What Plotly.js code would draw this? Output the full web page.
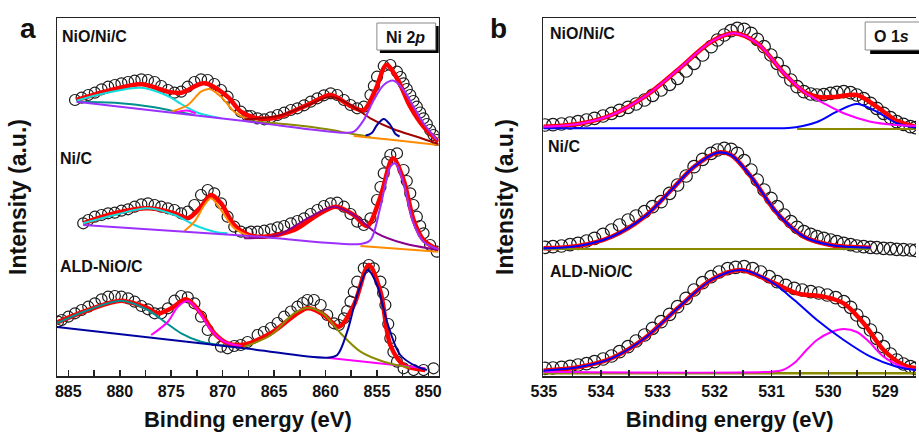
<!DOCTYPE html>
<html>
<head>
<meta charset="utf-8">
<script src="https://cdn.plot.ly/plotly-3.0.1.min.js"></script>
<style>html,body{margin:0;padding:0;background:#fff}#chart{width:919px;height:436px}</style>
</head>
<body>
<div id="chart"></div>
<script>
// ---------- Panel a : Ni 2p (binding energy eV, intensity a.u.) ----------
const a1DataE = [884.35,883.71,883.06,882.42,881.77,881.13,880.48,879.84,879.19,878.55,877.9,877.26,876.61,875.97,875.32,874.68,874.03,873.39,872.74,872.1,871.45,870.81,870.16,869.52,868.87,868.23,867.58,867.24,866.6,865.95,865.31,864.66,864.02,863.37,862.73,862.08,861.44,860.79,860.15,859.5,858.86,858.21,857.57,856.92,856.28,855.63,855.3,854.99,854.34,853.7,853.05,852.7,852.41,852.1,851.76,851.45,851.12,850.8,850.47,850.15,849.83,849.5,849.18];
const a1DataI = [276,278.3,281,283.3,286.7,289.3,291,292.7,294,295.3,296.7,296,294,290,286,283.3,284.3,289.3,294,296.7,296,292,286,279.3,271,264.3,260,260,257.7,256.7,258.7,261,263.3,266,267.7,270.7,274.3,277.7,280.7,282.7,281,276,271,267.7,269.3,281,290,299.3,310,311,304.3,299,292.7,287,281,275,269.3,263.5,257.7,252,246,241,236];
const a1FitE = [884.19,881.45,877.9,875.32,874.03,871.77,869.52,868.23,866.6,864.66,861.44,859.5,857.57,856.28,855.15,854.08,853.05,851.76,850.47,849.02];
const a1FitI = [276,284.3,291.7,284.3,283.3,292.7,279.3,264.3,257.7,258.7,272.7,281,270,266,286,311,297.7,269.3,249.3,234.3];
const a1CyanE = [884.19,881.45,877.9,875.32,874.03,872.42,870.16];
const a1CyanI = [275.3,282.7,288.3,280,272,263.3,257.7];
const a1TealE = [884.19,880.48,876.61,874.68,872.74];
const a1TealI = [274.3,273.3,268.7,264.7,261];
const a1OrangeE = [875.0,873.39,872.1,871.29,870.16,868.87,867.42];
const a1OrangeI = [264.3,271,284.3,287,279.3,264.3,256];
const a1MagentaE = [874.5,873.5,872.6];
const a1MagentaI = [263.8,265.5,262.6];
const a1PurpleE = [884.19,867.9,858.21,857.24,856.28,855.31,854.34,853.37,852.41,851.44,850.47,849.18];
const a1PurpleI = [274.3,255,243.3,244.3,256,276,291,295.3,286,269.3,252.7,236];
const a1NavyE = [856.1,855.5,854.99,854.34,853.7,853.2,852.8];
const a1NavyI = [240.5,243,251,257,251,242,239.5];
const a1MaroonE = [867.89,864.66,861.44,859.5,857.57,855.63,853.37,851.12,849.02];
const a1MaroonI = [256.7,260,272,279.3,271,257.7,246.7,239.3,232];
const a1OliveE = [867.89,863.05,859.83,857.24,855.63];
const a1OliveI = [255.3,251,246.7,241.7,239.3];
const a1BaseE = [857.24,853.37,849.02];
const a1BaseI = [240,236,231];

const a2DataE = [883.55,883.06,882.42,881.77,881.13,880.48,879.84,879.19,878.55,877.9,877.26,876.61,875.97,875.32,874.68,874.03,873.39,872.74,872.1,871.45,870.81,870.16,869.52,868.87,868.23,867.58,867.24,866.6,865.95,865.31,864.66,864.02,863.37,862.73,862.08,861.44,860.79,860.15,859.5,858.86,858.21,857.57,856.92,856.28,855.63,854.99,854.66,854.34,854.0,853.7,853.05,852.41,852.1,851.76,851.45,851.12,850.8,850.47,849.83,849.18];
const a2DataI = [152.7,156,159.3,161,162.7,163.3,165.3,166.7,169.3,171.7,172.7,171,169.3,167.7,166,162.7,164.3,171,181,186,182.7,172.7,159.3,149.3,144.3,143,144.3,144.3,145.3,146.7,148.7,150,152.7,155,157.7,162,166,170,172.7,173.3,169.3,162,154.3,151,157.7,176,189,202.7,214,221,222.7,206,195,182.7,171,159.3,150,142.7,131,124.3];
const a2FitE = [883.55,880.48,877.26,874.68,873.39,872.1,871.13,870.16,868.87,867.42,865.95,863.05,860.79,859.02,857.24,855.95,854.66,853.44,852.41,851.44,850.47,849.02];
const a2FitI = [152.7,162.7,167.7,162.7,157.7,169.3,181,172.7,151,141,139.3,146,161,169.3,161,150,179.3,217.7,196,156,136,126];
const a2CyanE = [883.55,880.48,877.26,874.68,872.74,870.81,869.52];
const a2CyanI = [152.7,161,167.7,161,151,144.3,142.7];
const a2OrangeE = [873.71,872.74,871.77,871.13,870.16,868.87,867.42];
const a2OrangeI = [145,154.3,171,177.7,166,147.7,140];
const a2PurpleE = [883.55,867.42,856.6,855.63,854.66,853.7,853.21,852.41,851.44,850.47,849.02];
const a2PurpleI = [151,140,132,136,169.3,209.3,212.7,192.7,152.7,134.3,126.7];
const a2VioletE = [867.89,864.66,861.44,859.18,857.24,854.99,852.41,849.02];
const a2VioletI = [137.7,141,159.3,169.3,161,142.7,132.7,126];
const a2BaseE = [856.6,849.02];
const a2BaseI = [130,124.3];

const a3DataE = [886.0,885.64,885.0,884.35,883.71,883.06,882.42,881.77,881.13,880.48,879.84,879.19,878.55,877.9,877.26,876.61,875.97,875.32,874.68,874.03,873.39,872.74,872.1,871.45,870.81,870.16,869.52,868.87,868.23,867.58,866.6,866.0,865.31,864.66,864.02,863.37,862.73,862.2,861.76,861.12,860.47,859.83,859.18,858.7,858.21,857.9,857.57,857.25,856.92,856.28,855.79,855.31,854.66,854.4,854.18,853.9,853.7,853.4,853.05,852.41,851.44,850.47,849.5];
const a3DataI = [54.3,56,59.3,62.7,66,69.3,72.7,76.7,79.3,80,79.3,77.7,74.3,70,66.7,62.7,62.7,67.7,75.3,80,78.7,72.7,59.3,46,36,29.3,27.7,30,31,34,41,44,48,53,59.3,64.5,69.3,73,76,76,71,61,52.7,51,57.7,65,74.3,84,94.3,107.7,111,107.7,94.3,83,71,52,37.7,24,14.3,7.7,6,6,7.7];
const a3FitE = [886.29,883.06,879.84,877.26,876.29,875.0,873.55,872.1,870.81,869.52,867.89,865.31,861.76,860.15,858.7,857.24,855.79,854.66,853.7,852.41,850.31];
const a3FitI = [52.7,66,75.3,67.7,62.7,67.7,76.7,62.7,42.7,32.7,31.5,42.7,67.7,61,49.3,71,111,84.3,31,11,6];
const a3TealE = [886.29,883.06,879.84,877.26,875.65,874.03,872.1,869.52];
const a3TealI = [52,66,75.3,66,54.3,42.7,34.3,30];
const a3MagentaE = [876.94,875.32,874.35,873.39,872.42,871.13,869.84,868.23];
const a3MagentaI = [41,54.3,69.3,75,66,46,34.3,30];
const a3NavyE = [886.29,867.89,859.83,858.86,857.89,856.92,855.89,854.99,854.02,852.73,851.12,850.15];
const a3NavyI = [49.3,27.7,18.3,21,44.3,81,106,91,54.3,21,9.3,6];
const a3OliveE = [867.89,865.31,863.05,861.6,860.15,858.53,856.6,854.34,851.76];
const a3OliveI = [29.3,41,62.7,68.3,61.7,42.7,24.3,14.3,8.3];
const a3BaseE = [859.83,850.31];
const a3BaseI = [18.3,7.7];

// ---------- Panel b : O 1s ----------
const bDataE = [534.98,534.84,534.69,534.54,534.4,534.25,534.11,533.96,533.81,533.67,533.52,533.38,533.23,533.09,532.94,532.79,532.65,532.5,532.36,532.21,532.06,531.95,531.83,531.71,531.6,531.48,531.36,531.25,531.13,531.01,530.9,530.78,530.66,530.55,530.43,530.31,530.2,530.08,529.96,529.85,529.73,529.61,529.5,529.38,529.26,529.15,529.03,528.91,528.8,528.68,528.56,528.47];
const b1DataI = [251,251.3,252,253,254.3,256,257.7,260,262.7,265.7,268.7,272,276,280.7,286,291.7,297.7,305,312.7,321,329.3,336,341,345.3,347.7,346.7,342.7,336.7,329.3,321,312.7,304.3,296,289.3,284.3,282,281,281.3,282.7,283.7,284.3,283.3,281,277.3,272.7,267.7,262.7,258.3,254.3,251.7,249.3,248.3];
const b2DataI = [128.7,129.3,130,131.3,132.7,135,137.7,141.7,146,151,156,160,164.3,169.3,174.3,182.7,191,200,209.3,216.7,222.7,226,227.7,226.7,222.7,215.3,206,196,186,177.7,169.3,161,154.3,148.7,144.3,141.7,139.3,137.7,136,134.3,132.7,131.3,130,129.3,128.7,128.3,127.7,127.3,126.7,126.3,126,125.7];
const b3DataE = [534.98,534.84,534.69,534.54,534.4,534.25,534.11,533.96,533.81,533.67,533.52,533.38,533.23,533.09,532.94,532.79,532.65,532.5,532.36,532.21,532.06,531.92,531.77,531.63,531.48,531.33,531.19,531.04,530.9,530.75,530.6,530.46,530.31,530.17,530.02,529.87,529.73,529.61,529.5,529.38,529.26,529.15,529.03,528.91,528.8,528.68,528.56,528.47];
const b3DataI = [7.7,8,8.7,9.7,11,12.3,14.3,17,20,24.3,29.3,35,41,47.7,54.3,61.7,69.3,77.7,86,93.3,99.3,104,107.3,108.7,109.3,107.3,104,99.3,94.3,90.7,87.7,86,84.3,83,81,78.3,74.3,68.7,61,53.7,46,37.7,29.3,22,16,12,9.3,7.7];

const b1FitE = [535.01,534.4,533.81,533.23,532.65,532.06,531.66,531.25,530.78,530.43,530.14,529.85,529.5,529.15,528.8,528.46];
const b1FitI = [249.3,252,261,279.3,306,334.3,342.7,332.7,302.7,284.3,278.7,279.3,281,269.3,255.3,249.3];
const b1MagentaE = [535.01,534.4,533.81,533.23,532.65,532.06,531.66,531.25,530.78,530.43,530.08,529.73,529.26,528.8,528.46];
const b1MagentaI = [249.3,252,261,279.3,306,334.3,342.7,332.7,302.7,284.3,272.7,262.7,254.3,251,250];
const b1BlueE = [535.01,531.0,530.7,530.45,530.2,529.85,529.5,529.15,528.8,528.46];
const b1BlueI = [247.7,247.7,248,250,254,264.3,272,264.3,252.7,248.3];
const b1OliveE = [530.55,528.46];
const b1OliveI = [247,247];

const b2FitE = [535.01,534.4,533.81,533.23,532.76,532.36,531.95,531.71,531.36,530.9,530.43,529.96,529.26];
const b2FitI = [127.7,130,139.3,159.3,186,209.3,223.3,221,199.3,162.7,139.3,131,128.3];
const b2OliveE = [535.01,529.26];
const b2OliveI = [127,127];

const b3FitE = [535.01,534.4,533.81,533.23,532.65,532.06,531.54,531.01,530.55,530.08,529.73,529.38,529.03,528.68,528.46];
const b3FitI = [5.3,8.7,17.7,37.7,67.7,96,106,94.3,82.7,79.3,72.7,52.7,26,11,7.7];
const b3BlueE = [535.01,534.4,533.81,533.23,532.65,532.06,531.54,531.01,530.6,530.2,529.73,529.26,528.8,528.46];
const b3BlueI = [5.3,8.7,17.7,37.7,67.7,96,106,94.3,76,56,36,19.3,9.3,6];
const b3MagentaE = [535.01,531.0,530.8,530.6,530.4,530.2,529.95,529.73,529.5,529.3,529.03,528.68,528.46];
const b3MagentaI = [4.3,4.3,6,13,25,36,44,47,44,35,19.3,8.7,6];
const b3OliveE = [535.01,528.46];
const b3OliveI = [2.7,2.7];

// ---------- ticks & labels ----------
const aTickVals = [885,880,875,870,865,860,855,850];
const aTickText = ['885','880','875','870','865','860','855','850'];
const aMinorVals = [882.5,877.5,872.5,867.5,862.5,857.5,852.5];
const bTickVals = [535,534,533,532,531,530,529];
const bTickText = ['535','534','533','532','531','530','529'];
const bMinorVals = [534.5,533.5,532.5,531.5,530.5,529.5,528.5];
const sampleNames = ['NiO/Ni/C','Ni/C','ALD-NiO/C'];

const FONT = 'Liberation Sans, Arial, Helvetica, sans-serif';
const C = {red:'#ff0000', cyan:'#10dede', teal:'#009090', orange:'#ff8c00', magenta:'#ff00ff',
           purple:'#9b30ff', navy:'#0000a0', maroon:'#a00000', olive:'#8a8a00', violet:'#8b008b', blue:'#0000ff'};

function dots(x, y, ax, size) {
  return {x:x, y:y, mode:'markers', type:'scatter', xaxis:ax[0], yaxis:ax[1], showlegend:false, hoverinfo:'skip',
          marker:{symbol:'circle-open', size:size, color:'#1a1a1a', line:{width:1.2}}};
}
function curve(x, y, color, width, ax) {
  return {x:x, y:y, mode:'lines', type:'scatter', xaxis:ax[0], yaxis:ax[1], showlegend:false, hoverinfo:'skip',
          line:{color:color, width:width, shape:'spline', smoothing:0.9}};
}
const A = ['x','y'], B = ['x2','y2'];
const traces = [
  dots(a1DataE,a1DataI,A,11), dots(a2DataE,a2DataI,A,11), dots(a3DataE,a3DataI,A,11),
  curve(a1FitE,a1FitI,C.red,4.5,A), curve(a2FitE,a2FitI,C.red,4.5,A), curve(a3FitE,a3FitI,C.red,4.5,A),
  curve(a1TealE,a1TealI,C.teal,2,A), curve(a1CyanE,a1CyanI,C.cyan,2,A), curve(a1MagentaE,a1MagentaI,C.magenta,2,A),
  curve(a1OrangeE,a1OrangeI,C.orange,2,A), curve(a1OliveE,a1OliveI,C.olive,2,A), curve(a1BaseE,a1BaseI,C.orange,2,A),
  curve(a1MaroonE,a1MaroonI,C.maroon,2,A), curve(a1NavyE,a1NavyI,C.navy,2,A), curve(a1PurpleE,a1PurpleI,C.purple,2,A),
  curve(a2CyanE,a2CyanI,C.cyan,2,A), curve(a2OrangeE,a2OrangeI,C.orange,2,A), curve(a2BaseE,a2BaseI,C.orange,2,A),
  curve(a2VioletE,a2VioletI,C.violet,2,A), curve(a2PurpleE,a2PurpleI,C.purple,2,A),
  curve(a3TealE,a3TealI,C.teal,2,A), curve(a3MagentaE,a3MagentaI,C.magenta,2,A), curve(a3BaseE,a3BaseI,C.magenta,2,A),
  curve(a3OliveE,a3OliveI,C.olive,2,A), curve(a3NavyE,a3NavyI,C.navy,2,A),
  dots(bDataE,b1DataI,B,12.5), dots(bDataE,b2DataI,B,12.5), dots(b3DataE,b3DataI,B,12.5),
  curve(b1FitE,b1FitI,C.red,4.5,B), curve(b2FitE,b2FitI,C.red,4.5,B), curve(b3FitE,b3FitI,C.red,4.5,B),
  curve(b1OliveE,b1OliveI,C.olive,2,B), curve(b1BlueE,b1BlueI,C.blue,2,B), curve(b1MagentaE,b1MagentaI,C.magenta,2,B),
  curve(b2OliveE,b2OliveI,C.olive,2,B), curve(b2FitE,b2FitI,C.blue,2.2,B),
  curve(b3OliveE,b3OliveI,C.olive,2.5,B), curve(b3MagentaE,b3MagentaI,C.magenta,2,B), curve(b3BlueE,b3BlueI,C.blue,2,B)
];

// plot area spans x 57..919 px (W = 862), y 18..376 px (H = 358)
const L = 57, W = 862, TOP = 18, H = 358;
const px = v => (v - L) / W;          // pixel x -> paper x
const py = v => (TOP + H - v) / H;    // pixel y -> paper y

const tickFont = {family:FONT, size:16, weight:'bold', color:'#111'};
const titleFont = {family:FONT, size:22, weight:'bold', color:'#111'};
function xAxis(domain, range, tv, tt, mv) {
  return {domain:domain, range:range, autorange:false, tickmode:'array', tickvals:tv, ticktext:tt,
    ticks:'inside', ticklen:6, tickwidth:1.5, tickcolor:'#222',
    minor:{tickmode:'array', tickvals:mv, ticks:'inside', ticklen:6, tickwidth:1.5, tickcolor:'#222'},
    showline:true, linecolor:'#222', linewidth:1.5, mirror:true, showgrid:false, zeroline:false,
    tickfont:tickFont, automargin:true,
    title:{text:'Binding energy (eV)', font:titleFont, standoff:13}};
}
function yAxis(anchor, mirror) {
  return {domain:[0,1], range:[0,358], autorange:false, anchor:anchor, showticklabels:false, ticks:'',
    showline:true, linecolor:'#222', linewidth:1.5, mirror:mirror, showgrid:false, zeroline:false, automargin:true,
    title:{text:'Intensity (a.u.)', font:{family:FONT, size:23, weight:'bold', color:'#111'}, standoff:22}};
}
function lab(text, x, y, size, anchor) {
  return {text:text, x:px(x), y:py(y), xref:'paper', yref:'paper', xanchor:anchor||'left', yanchor:'middle',
          showarrow:false, font:{family:FONT, size:size, weight:'bold', color:'#111'}};
}
function box(x0, x1, y0, y1, fill, lineColor) {
  return {type:'rect', xref:'paper', yref:'paper', x0:px(x0), x1:px(x1), y0:py(y1), y1:py(y0),
          fillcolor:fill, line:lineColor ? {color:lineColor, width:1} : {width:0}, layer:'above'};
}
const layout = {
  width:919, height:436, margin:{l:L, r:0, t:TOP, b:436-TOP-H, pad:0},
  paper_bgcolor:'#ffffff', plot_bgcolor:'#ffffff', showlegend:false,
  xaxis: Object.assign(xAxis([px(57), px(440)], [886.1, 849.0], aTickVals, aTickText, aMinorVals), {anchor:'y'}),
  yaxis: yAxis('x', true),
  xaxis2: Object.assign(xAxis([px(545), 1], [535.01, 528.46], bTickVals, bTickText, bMinorVals), {anchor:'y2'}),
  yaxis2: yAxis('x2', false),
  shapes:[
    box(381, 440, 26, 53, '#000'),
    box(378, 437, 23, 50, '#fff', '#888'),
    box(873, 935, 50, 54, '#000'),
    box(868, 935, 22, 50, '#fff', '#888')
  ],
  annotations:[
    lab('a', 28, 28, 28, 'center'),
    lab('b', 500, 28, 28, 'center'),
    lab('Ni 2<i>p</i>', 407, 37, 16, 'center'),
    lab('O 1<i>s</i>', 875, 36, 16, 'left'),
    lab(sampleNames[0], 60, 36, 16),
    lab(sampleNames[1], 58, 159, 16),
    lab(sampleNames[2], 58, 266, 16),
    lab(sampleNames[0], 550, 34, 16),
    lab(sampleNames[1], 548, 146, 16),
    lab(sampleNames[2], 550, 271, 16)
  ]
};
Plotly.newPlot('chart', traces, layout, {displayModeBar:false, staticPlot:true});
</script>
</body>
</html>
